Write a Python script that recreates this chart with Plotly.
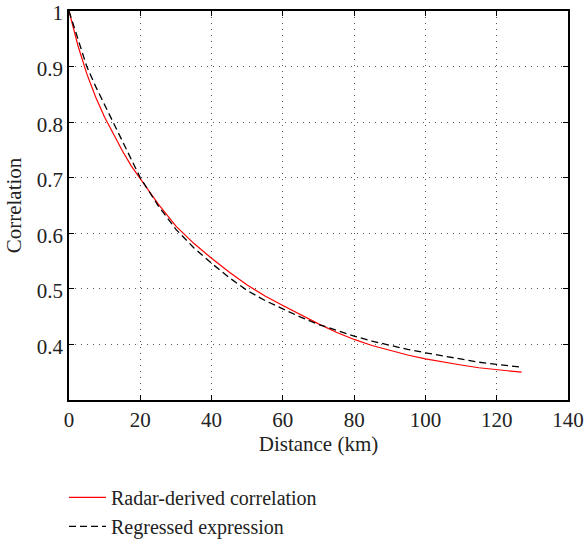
import plotly.graph_objects as go

distance = [0, 2.5, 5, 7.5, 10, 12.5, 15, 17.5, 20, 25, 30, 35, 40, 45, 50, 55, 60, 65, 70,
            75, 80, 85, 90, 95, 100, 105, 110, 115, 120, 125, 127]
radar_corr = [1.000, 0.938, 0.887, 0.845, 0.809, 0.777, 0.748, 0.721, 0.699, 0.653, 0.613,
              0.582, 0.555, 0.530, 0.507, 0.487, 0.470, 0.453, 0.437, 0.422, 0.409, 0.398,
              0.389, 0.381, 0.374, 0.368, 0.363, 0.358, 0.355, 0.351, 0.350]
regressed = [1.000, 0.948, 0.900, 0.864, 0.831, 0.797, 0.765, 0.732, 0.700, 0.650, 0.607,
             0.574, 0.546, 0.520, 0.497, 0.479, 0.464, 0.449, 0.436, 0.425, 0.415, 0.406,
             0.398, 0.391, 0.385, 0.379, 0.373, 0.368, 0.364, 0.360, 0.359]

x_ticks = [0, 20, 40, 60, 80, 100, 120, 140]
y_ticks = [0.4, 0.5, 0.6, 0.7, 0.8, 0.9, 1.0]
y_ticktext = ["0.4", "0.5", "0.6", "0.7", "0.8", "0.9", "1"]

FONT = "Liberation Serif, Times New Roman, serif"
TXT = "#222222"

fig = go.Figure()
fig.add_trace(go.Scatter(x=distance, y=radar_corr, mode="lines",
                         name="Radar-derived correlation",
                         line=dict(color="#ff0000", width=1.2)))
fig.add_trace(go.Scatter(x=distance, y=regressed, mode="lines",
                         name="Regressed expression",
                         line=dict(color="black", width=1.3, dash="7px,4px")))

axis_common = dict(
    showline=True, linecolor="black", linewidth=1.5, mirror="ticks",
    ticks="inside", ticklen=5, tickcolor="black", tickwidth=1,
    showgrid=True, gridcolor="#555555", gridwidth=1, griddash="1px,5px",
    zeroline=False, automargin=False, ticklabeloverflow="allow",
    tickfont=dict(family=FONT, size=21, color=TXT),
)

fig.update_xaxes(range=[0, 140], tickvals=x_ticks,
                 title=dict(text="Distance (km)", font=dict(family=FONT, size=21, color=TXT),
                            standoff=0),
                 **axis_common)
fig.update_yaxes(range=[0.3, 1.0001], tickvals=y_ticks, ticktext=y_ticktext,
                 ticklabelshift=2,
                 title=dict(text="Correlation", font=dict(family=FONT, size=21, color=TXT),
                            standoff=9),
                 **axis_common)

fig.update_layout(
    width=584, height=544,
    margin=dict(l=69, r=16, t=11, b=144, autoexpand=False),
    plot_bgcolor="white", paper_bgcolor="white",
    font=dict(family=FONT, size=20, color=TXT),
    showlegend=True,
    legend=dict(x=-0.01, y=-0.2, xanchor="left", yanchor="top",
                bgcolor="rgba(0,0,0,0)", borderwidth=0, itemwidth=37,
                font=dict(family=FONT, size=20, color=TXT),
                tracegroupgap=0),
)

fig.write_html("out.html", config={"displayModeBar": False},
               post_script="document.body.style.margin='0';")
